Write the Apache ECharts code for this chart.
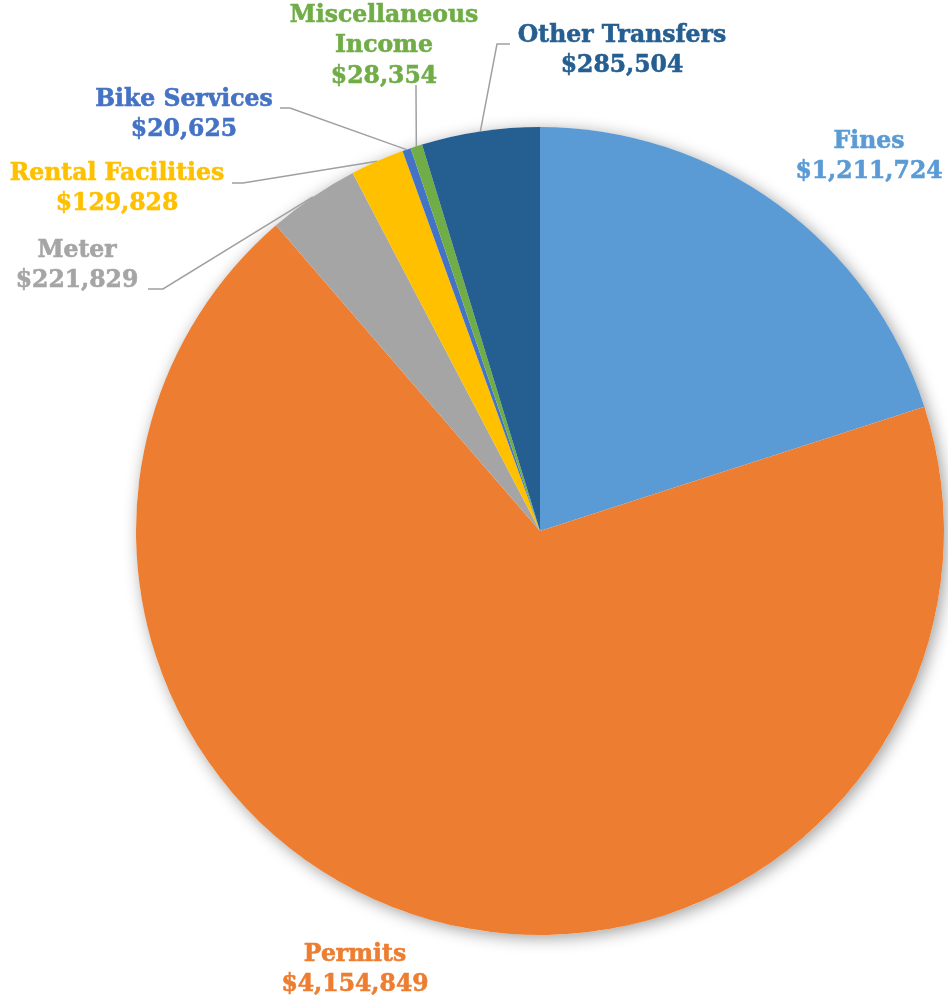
<!DOCTYPE html>
<html><head><meta charset="utf-8">
<script src="https://cdn.jsdelivr.net/npm/echarts@6/dist/echarts.min.js"></script>
<style>html,body{margin:0;padding:0;background:#fff}#c{width:948px;height:1002px}</style>
</head><body><div id="c"></div>
<script>
const categories = ['Fines','Permits','Meter','Rental Facilities','Bike Services','Miscellaneous\nIncome','Other Transfers'];
const values = [1211724,4154849,221829,129828,20625,28354,285504];
const colors = ['#5B9BD5','#ED7D31','#A5A5A5','#FFC000','#4472C4','#70AD47','#255E91'];

// label placement (layout only)
const labelPos = [
  {x:869,y:157,line:null},
  {x:355,y:970,line:null},
  {x:77,y:266,line:[[163,289],[148,289]]},
  {x:117,y:189,line:[[243,183],[232,183]]},
  {x:184,y:115,line:[[290,108],[280,108]]},
  {x:384,y:46,line:[[416,91],[416,85]]},
  {x:622,y:51,line:[[497,44],[510,44]]}
];
const CX=540, CY=531, R=404;
const fmt = v => '$' + v.toLocaleString('en-US');
const chart = echarts.init(document.getElementById('c'));
chart.setOption({
  animation:false,
  series:[
    {type:'pie',center:[CX,CY],radius:R,silent:true,z:1,
     label:{show:false},labelLine:{show:false},
     itemStyle:{color:'#fff',shadowBlur:16,shadowColor:'rgba(0,0,0,0.38)',shadowOffsetX:3,shadowOffsetY:3},
     data:[{value:1}]},
    {type:'pie',center:[CX,CY],radius:R,startAngle:90,clockwise:true,z:2,
     avoidLabelOverlap:false,
     itemStyle:{borderWidth:0},
     label:{show:true,position:'outside',fontFamily:'DejaVu Serif',fontWeight:'bold',fontSize:23.5,lineHeight:30.5,align:'center',
       textBorderWidth:0.6,
       formatter:p=>p.name+'\n'+fmt(p.value)},
     labelLine:{show:true,lineStyle:{color:'#A0A0A0',width:1.5}},
     labelLayout:function(params){
       const lp = labelPos[params.dataIndex];
       const out = {x:lp.x,y:lp.y,align:'center',verticalAlign:'middle'};
       if(lp.line && params.labelLinePoints){
         out.labelLinePoints=[params.labelLinePoints[0],lp.line[0],lp.line[1]];
       }
       return out;
     },
     data:categories.map((c,i)=>({name:c,value:values[i],itemStyle:{color:colors[i]},
       label:{color:colors[i],textBorderColor:colors[i]},labelLine:{show:labelPos[i].line!==null}}))
    }
  ]
});
</script></body></html>
